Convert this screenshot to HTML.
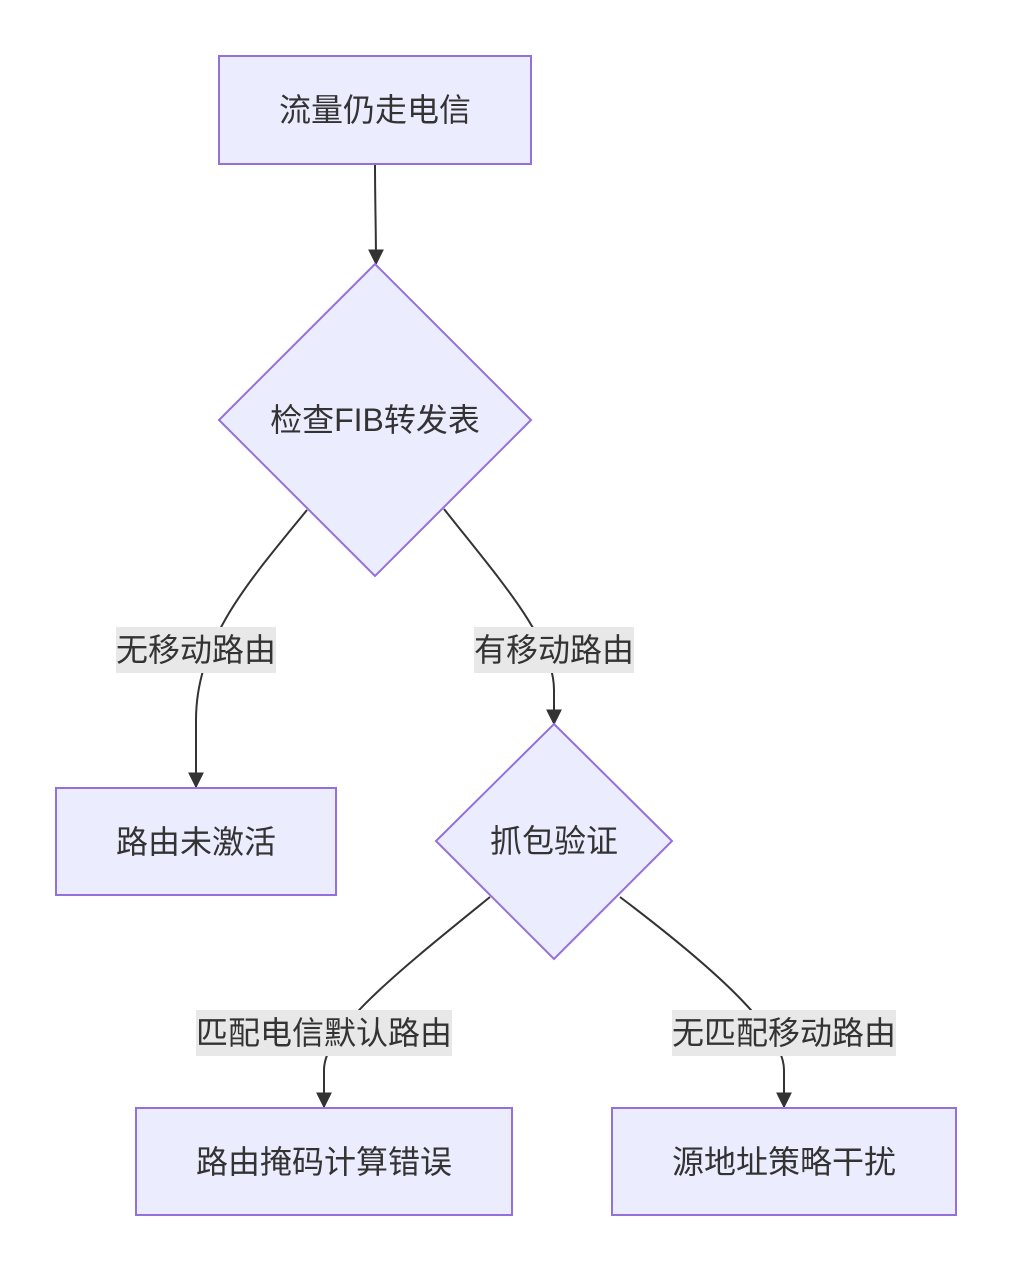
<!DOCTYPE html>
<html><head><meta charset="utf-8"><style>
html,body{margin:0;padding:0;background:#fff;}
svg{display:block;}
text{font-family:"Liberation Sans","Noto Sans CJK SC",sans-serif;font-size:32px;fill:#333;text-anchor:middle;dominant-baseline:central;}
</style></head><body>
<svg width="1012" height="1271" viewBox="0 0 1012 1271" xmlns="http://www.w3.org/2000/svg">
<defs>
<marker id="b" viewBox="0 0 12 12" refX="11" refY="6" markerWidth="16" markerHeight="16" orient="auto" markerUnits="userSpaceOnUse"><path d="M0,0L12,6L0,12z" fill="#333"/></marker></defs>
<g fill="none" stroke="#333" stroke-width="2">
<path d="M375,164 C375,200 376,230 376,264" marker-end="url(#b)"/>
<path d="M307,510 C250,580 196,640 196,720 L196,787" marker-end="url(#b)"/>
<path d="M444,509 C500,580 554,640 554,690 L554,724" marker-end="url(#b)"/>
<path d="M490,897 C400,970 324,1030 324,1070 L324,1107" marker-end="url(#b)"/>
<path d="M620,897 C710,965 784,1030 784,1070 L784,1107" marker-end="url(#b)"/>
</g>
<g fill="#ECECFF" stroke="#9370DB" stroke-width="2">
<rect x="219" y="56" width="312" height="108"/>
<polygon points="375,264 531,420 375,576 219,420"/>
<rect x="56" y="788" width="280" height="107"/>
<polygon points="554,724 672,841 554,959 436,841"/>
<rect x="136" y="1108" width="376" height="107"/>
<rect x="612" y="1108" width="344" height="107"/>
</g>
<g fill="#e8e8e8">
<rect x="116" y="627" width="160" height="46"/>
<rect x="474" y="627" width="160" height="46"/>
<rect x="196" y="1010" width="256" height="46"/>
<rect x="672" y="1010" width="224" height="46"/>
</g>
<text x="375" y="110">流量仍走电信</text>
<text x="375" y="420">检查FIB转发表</text>
<text x="196" y="650">无移动路由</text>
<text x="554" y="650">有移动路由</text>
<text x="196" y="842">路由未激活</text>
<text x="554" y="841">抓包验证</text>
<text x="324" y="1033">匹配电信默认路由</text>
<text x="784" y="1033">无匹配移动路由</text>
<text x="324" y="1162">路由掩码计算错误</text>
<text x="784" y="1162">源地址策略干扰</text>
</svg>
</body></html>
